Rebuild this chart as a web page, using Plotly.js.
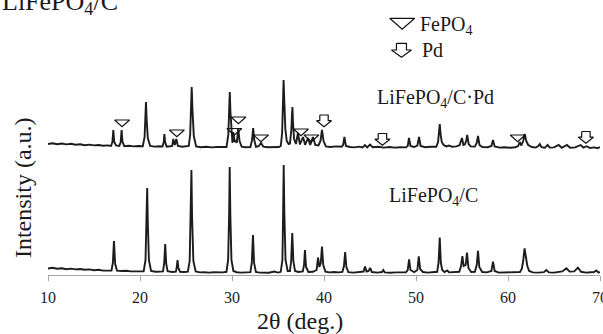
<!DOCTYPE html>
<html>
<head>
<meta charset="utf-8">
<script src="https://cdn.plot.ly/plotly-3.0.1.min.js"></script>
<style>html,body{margin:0;padding:0;background:#fff;}#chart{width:603px;height:334px;}</style>
</head>
<body>
<div id="chart"></div>
<script>
// 2θ (deg.) / intensity (a.u.)
const patternPd = [
[10.0,131],[10.5,131.8],[11.0,130.8],[11.5,131.5],[12.0,130.6],[12.5,131.2],[13.0,130.2],[13.5,130.8],[14.0,129.8],[14.5,130.4],
[15.0,129.6],[15.5,130.0],[16.0,129.2],[16.5,129.6],[16.85,129],[17.0,133],[17.1,145],[17.2,133],[17.4,129.5],[17.75,129],
[17.9,133],[18.0,145],[18.1,133],[18.3,128.8],[18.8,129.2],[19.3,128.6],[19.8,129],[20.3,128.8],[20.5,138],[20.6,158],
[20.65,173],[20.72,156],[20.85,137],[21.1,129],[21.6,128.4],[22.1,128.8],[22.45,128.6],[22.58,133],[22.65,141],[22.73,133],
[22.9,128.4],[23.3,128.8],[23.5,129],[23.62,136],[23.78,130],[23.95,136],[24.12,129],[24.6,128.2],[25.0,128.6],[25.3,129],
[25.45,140],[25.55,168],[25.62,188],[25.7,166],[25.85,139],[26.1,128.6],[26.6,127.8],[27.2,128.2],[27.8,127.6],[28.4,128],
[29.0,127.6],[29.4,128],[29.6,140],[29.7,168],[29.76,183],[29.83,163],[29.95,138],[30.05,132],[30.15,143],[30.28,133],
[30.42,135],[30.52,132],[30.68,147],[30.82,134],[31.05,128.4],[31.5,127.8],[32.0,128],[32.18,135],[32.3,147],[32.42,135],
[32.6,128.2],[32.9,128.8],[33.15,132],[33.4,128.4],[33.9,127.8],[34.5,128.2],[35.1,128],[35.3,129],[35.45,142],[35.55,176],
[35.61,195],[35.68,175],[35.8,146],[35.95,134],[36.15,131],[36.3,131.5],[36.45,145],[36.52,160],[36.57,168],[36.63,152],
[36.75,136],[36.95,131],[37.17,142],[37.38,130.5],[37.72,138],[37.95,130.2],[38.26,137],[38.5,130],[38.8,138],[39.05,130],
[39.4,129.5],[39.62,134],[39.78,145],[39.95,134],[40.2,128.6],[40.7,128],[41.3,128.6],[41.9,128.2],[42.08,130],[42.22,138],
[42.38,129],[42.8,128],[43.3,127.6],[43.8,128.4],[44.2,127.6],[44.45,130],[44.7,127.6],[45.0,130.5],[45.3,127.8],[45.9,128.2],
[46.5,127.4],[47.1,128],[47.7,127.4],[48.3,127.8],[48.9,127.6],[49.1,129],[49.24,137],[49.4,129],[49.8,128],[50.15,129.5],
[50.33,138],[50.5,129],[51.0,127.8],[51.6,128.2],[52.2,128.2],[52.4,133],[52.5,143],[52.58,151],[52.67,141],[52.8,133],
[53.0,130],[53.3,128.6],[53.6,129.5],[53.9,128.2],[54.4,128.6],[54.75,130],[54.88,134],[55.0,137],[55.15,130],[55.3,130.5],
[55.45,134],[55.57,140],[55.72,131],[55.95,128.6],[56.4,128.4],[56.6,132],[56.74,139],[56.9,130],[57.2,128],[57.8,127.8],
[58.2,129],[58.37,135],[58.55,128.6],[59.1,127.4],[59.6,127.8],[60.2,127.2],[60.8,127.8],[61.1,129],[61.27,133],[61.45,129.5],
[61.65,134],[61.82,141],[61.98,134],[62.2,130],[62.6,128],[63.0,127.4],[63.3,129],[63.45,131],[63.65,127.8],[64.0,127.2],
[64.3,130],[64.55,127.4],[65.0,127.6],[65.5,130],[65.85,127.2],[66.4,130],[66.75,127.2],[67.3,127.6],[67.9,130],[68.2,127.4],
[68.55,128.8],[68.9,127],[69.4,127.6],[69.75,126.8],[70.0,128]
];
const patternC = [
[10.0,6.5],[10.5,7.2],[11.0,6.2],[11.5,6.8],[12.0,5.8],[12.5,6.4],[13.0,5.6],[13.5,6.0],[14.0,5.2],[14.5,5.6],
[15.0,4.8],[15.5,5.2],[16.0,4.4],[16.5,4.8],[16.9,4.4],[17.05,12],[17.17,34],[17.3,11],[17.5,4.4],[18.0,4],
[18.5,4.2],[19.0,3.6],[19.5,3.8],[20.0,3.4],[20.4,3.8],[20.6,15],[20.72,55],[20.78,87],[20.85,52],[20.97,15],
[21.2,4],[21.7,3.2],[22.2,3.4],[22.5,3.6],[22.63,12],[22.74,31],[22.85,11],[23.0,3.8],[23.5,3.0],[23.9,3.4],
[24.0,8],[24.08,15],[24.17,7],[24.35,3.2],[24.8,3],[25.2,3.4],[25.4,14],[25.52,60],[25.59,105],[25.66,58],
[25.8,14],[26.05,3.6],[26.5,2.6],[27.0,2.8],[27.5,2.4],[28.0,2.8],[28.5,2.4],[29.0,2.6],[29.4,3.2],[29.58,15],
[29.69,62],[29.75,108],[29.82,60],[29.94,15],[30.15,4],[30.5,2.8],[31.0,2.4],[31.5,2.8],[32.0,2.8],[32.15,12],
[32.28,40],[32.4,12],[32.6,3],[33.0,2.4],[33.5,2.6],[34.0,2.2],[34.6,3.4],[35.0,2.4],[35.3,3.2],[35.48,15],
[35.56,64],[35.62,110],[35.69,62],[35.82,15],[36.05,4],[36.3,4],[36.43,14],[36.55,42],[36.67,14],[36.85,4],
[37.2,3],[37.7,3.6],[37.83,10],[37.93,25],[38.05,8],[38.3,3],[38.8,3.2],[39.2,5],[39.35,17.5],[39.5,8],
[39.65,12],[39.78,28.5],[39.92,10],[40.15,3.4],[40.6,2.6],[41.1,3],[41.6,2.6],[42.0,3],[42.17,9],[42.3,23],
[42.43,8],[42.65,2.8],[43.2,2.4],[43.8,2.8],[44.3,3.5],[44.46,8.5],[44.62,3.5],[44.85,4],[45.02,7.2],[45.2,3],
[45.8,2.4],[46.3,3],[46.45,5],[46.6,2.6],[47.2,2.2],[47.8,2.6],[48.4,2.2],[48.9,2.6],[49.1,5],[49.25,15.7],
[49.4,5],[49.8,2.8],[50.15,5],[50.3,18.7],[50.45,6],[50.75,3],[51.3,2.4],[51.9,2.8],[52.3,3.2],[52.45,12],
[52.58,37.5],[52.7,12],[52.85,5],[53.1,3],[53.4,4.5],[53.6,2.6],[54.2,2.6],[54.7,3.2],[54.9,9],[55.04,19],
[55.18,9],[55.4,10],[55.54,22.3],[55.7,7],[56.0,3],[56.4,3.2],[56.6,10],[56.74,24.2],[56.88,8],[57.2,3],
[57.7,2.6],[58.2,4],[58.37,13.3],[58.55,4],[59.0,2.4],[59.6,2.6],[60.2,2.2],[60.8,2.6],[61.3,3],[61.5,6],
[61.65,14],[61.8,26.7],[61.95,18],[62.1,9],[62.3,4],[62.7,2.6],[63.3,2.4],[63.9,2.8],[64.17,5],[64.45,2.6],
[65.0,2.4],[65.5,3],[65.9,3.6],[66.35,6.7],[66.7,3.4],[67.2,3.6],[67.6,7.3],[67.95,3.2],[68.5,2.4],[69.0,2.8],
[69.35,3],[69.6,4.5],[69.85,2.4],[70.0,3]
];
// phase marks: 2θ and top of the mark (a.u.)
const fePO4Theta = [18.05, 24.0, 30.7, 30.25, 33.15, 37.5, 38.63, 61.05];
const fePO4Level = [155, 145, 158, 146.5, 140, 146, 140, 140];
const pdTheta = [40.0, 46.35, 68.47];
const pdLevel = [160, 141.5, 143.5];
const xTicks = [10, 20, 30, 40, 50, 60, 70];

const W = 603, H = 334, M = {l: 48, r: 3, t: 0, b: 59};
const XR = [10, 70], YR = [0, 275];
const pxX = (W - M.l - M.r) / (XR[1] - XR[0]);
const pxY = (H - M.t - M.b) / (YR[1] - YR[0]);
const FONT = 'Liberation Serif, Times New Roman, serif';

function triPath(xs, ys, hw, h) {
  const X = [], Y = [];
  xs.forEach((x, i) => {
    const y = ys[i], dx = hw / pxX, dy = h / pxY;
    X.push(x - dx, x + dx, x, x - dx, null);
    Y.push(y, y, y - dy, y, null);
  });
  return {X, Y};
}
function arrowPath(xs, ys, sw, hw, s, h) {
  const X = [], Y = [];
  xs.forEach((x, i) => {
    const y = ys[i];
    const a = sw / pxX, b = hw / pxX, c = s / pxY, d = h / pxY;
    X.push(x - a, x + a, x + a, x + b, x, x - b, x - a, x - a, null);
    Y.push(y, y, y - c, y - c, y - d, y - c, y - c, y, null);
  });
  return {X, Y};
}

const lineStyle = {color: '#1c1c1c', width: 1.9};
const markStyle = {color: '#111', width: 1.2};
const tri = triPath(fePO4Theta, fePO4Level, 7.5, 6.7);
const arr = arrowPath(pdTheta, pdLevel, 4.2, 7.5, 5.7, 11.7);
const triLeg = triPath([48.5], [256.7], 12.5, 11);
const arrLeg = arrowPath([48.42], [231.7], 5, 10, 6.7, 14);

const traces = [
  {x: patternPd.map(p => p[0]), y: patternPd.map(p => p[1]), mode: 'lines', line: lineStyle, name: 'LiFePO4/C·Pd'},
  {x: patternC.map(p => p[0]), y: patternC.map(p => p[1]), mode: 'lines', line: lineStyle, name: 'LiFePO4/C'},
  {x: tri.X, y: tri.Y, mode: 'lines', line: markStyle, name: 'FePO4'},
  {x: arr.X, y: arr.Y, mode: 'lines', line: markStyle, name: 'Pd'},
  {x: triLeg.X, y: triLeg.Y, mode: 'lines', line: markStyle, cliponaxis: false},
  {x: arrLeg.X, y: arrLeg.Y, mode: 'lines', line: markStyle, cliponaxis: false}
];

const txt = (text, x, y, size, extra) => Object.assign({
  text, x, y, xref: 'x', yref: 'y', showarrow: false, xanchor: 'left', yanchor: 'middle',
  font: {family: FONT, size, color: '#1a1a1a'}
}, extra || {});

const layout = {
  width: W, height: H, margin: M, showlegend: false,
  paper_bgcolor: '#fff', plot_bgcolor: '#fff',
  xaxis: {
    range: XR, tickvals: xTicks, ticktext: xTicks.map(String), showgrid: false, zeroline: false,
    showline: true, linecolor: '#a6a6a6', linewidth: 1, ticks: 'outside', ticklen: 5,
    tickcolor: '#a6a6a6', tickwidth: 1, tickfont: {family: FONT, size: 16, color: '#222'},
    ticklabeloverflow: 'allow', ticklabelstandoff: 3
  },
  yaxis: {range: YR, showgrid: false, zeroline: false, showline: false, showticklabels: false, ticks: ''},
  annotations: [
    txt('FePO<sub>4</sub>', 50.2, 250, 20),
    txt('Pd', 50.4, 225, 20),
    txt('LiFePO<sub>4</sub>/C·Pd', 45.54, 177, 20),
    txt('LiFePO<sub>4</sub>/C', 46.8, 79, 20),
    txt('LiFePO<sub>4</sub>/C', -48 / 552, 0.99, 26, {xref: 'paper', yref: 'paper'}),
    txt('Intensity (a.u.)', -25 / 552, 0.316, 24, {xref: 'paper', yref: 'paper', xanchor: 'center', textangle: -90}),
    txt('2θ (deg.)', 252 / 552, -0.167, 24, {xref: 'paper', yref: 'paper', xanchor: 'center'})
  ]
};

Plotly.newPlot('chart', traces, layout, {staticPlot: true, displayModeBar: false});
</script>
</body>
</html>
